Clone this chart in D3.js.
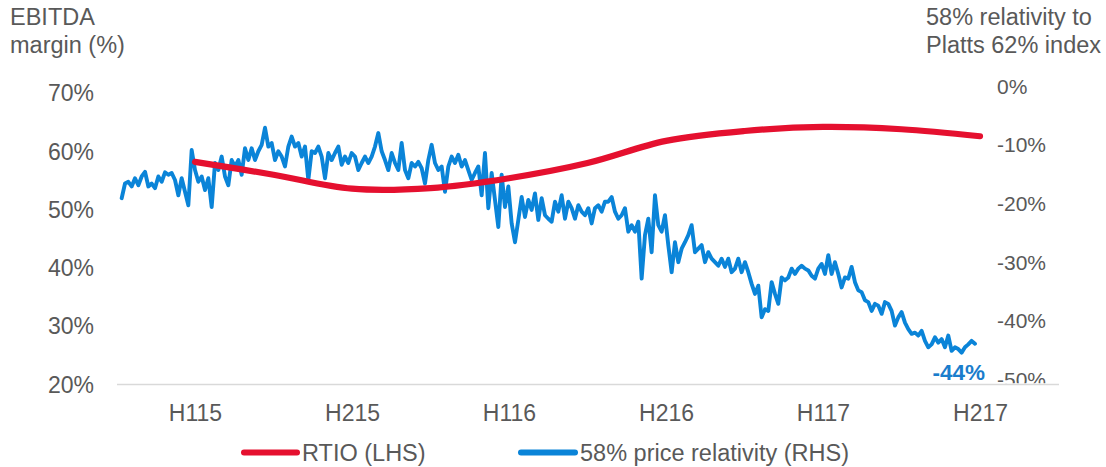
<!DOCTYPE html>
<html><head><meta charset="utf-8">
<script src="https://cdn.jsdelivr.net/npm/d3@7/dist/d3.min.js"></script>
<style>
body{margin:0;background:#fff}
svg{display:block}
text{font-family:"Liberation Sans",Arial,sans-serif;fill:#595959}
</style>
</head><body>
<svg id="chart" width="1106" height="467"></svg>
<script>
// ---- data ----
const halfLabels = ["H115","H215","H116","H216","H117","H217"];
const halfIndex = [0,1,2,3,4,5];
const leftTicks = [20,30,40,50,60,70];
const rightTicks = [0,-10,-20,-30,-40,-50];

// RTIO EBITDA margin (%), at quarter-half positions H115..H217
const rtioPos = [0,0.5,1,1.5,2,2.5,3,3.5,4,4.5,5];
const rtioValues = [58.1,55.9,53.5,53.6,55.3,57.9,61.7,63.4,64.1,63.7,62.5];

// 58% price relativity (%), regular samples (half-year units)
const relStart = -0.467;
const relStep = 0.02123;
const relValues = [
-19.2,-16.7,-16.4,-17.2,-15.8,-17.0,-15.5,-14.7,-17.2,-16.7,
-17.5,-15.5,-16.4,-14.8,-15.2,-14.9,-16.1,-18.7,-15.8,-18.1,
-20.4,-11.0,-14.4,-16.4,-15.5,-17.8,-15.8,-20.7,-13.2,-14.4,
-12.1,-15.5,-17.0,-12.7,-13.8,-12.7,-15.2,-10.7,-12.7,-10.7,
-12.7,-11.2,-10.1,-7.2,-10.4,-9.8,-12.7,-11.2,-12.1,-13.8,
-10.4,-8.7,-10.4,-9.8,-12.1,-10.4,-16.1,-11.2,-11.5,-10.4,
-12.1,-15.8,-11.5,
-12.7,-11.5,-10.4,-13.5,-12.1,-13.2,-11.5,-12.1,-14.4,-13.2,
-12.1,-13.2,-12.1,-10.4,-8.1,-11.2,-12.7,-14.4,-11.5,-13.2,
-14.4,-9.8,-14.4,-15.8,-13.2,-13.8,-13.0,-14.1,-16.7,-12.7,
-10.1,-13.2,-14.4,-13.8,-18.1,-13.8,-12.1,-13.2,-11.8,-13.8,
-12.7,-14.4,-16.1,-14.9,-13.8,-18.7,-11.5,-20.9,-14.9,-19.5,
-24.1,-15.2,-20.7,-17.2,-23.5,-26.7,-22.9,-19.0,-22.4,-19.5,
-21.2,-18.4,-22.9,
-19.2,-22.1,-22.7,-23.2,-19.8,-21.5,-18.7,-22.7,-19.8,-20.9,
-22.7,-20.4,-21.5,-22.1,-20.9,-23.5,-20.9,-20.4,-21.5,-19.8,
-19.8,-19.0,-21.5,-22.7,-22.1,-20.9,-24.9,-23.8,-24.9,-23.2,
-32.9,-25.5,-22.7,-28.4,-18.7,-23.8,-24.9,-22.1,-27.2,-31.8,
-26.7,-30.1,-27.8,-26.7,-25.5,-23.8,-28.4,-27.8,-27.2,-30.1,
-28.4,-29.5,-30.1,-30.7,-29.5,-30.9,-29.5,-31.8,-31.2,-29.5,
-31.8,-30.1,-31.8,
-33.8,-35.5,-34.1,-39.5,-38.1,-38.4,-33.5,-35.5,-37.2,-32.7,
-33.2,-32.7,-31.2,-32.1,-31.2,-30.7,-31.2,-31.5,-32.4,-32.9,
-31.2,-30.4,-32.1,-28.9,-32.1,-30.1,-32.1,-34.4,-32.7,-32.9,
-30.9,-33.5,-34.9,-35.2,-36.6,-36.9,-38.4,-37.2,-37.5,-38.9,
-36.9,-37.2,-38.4,-40.9,-39.5,-38.6,-40.4,-41.5,-42.3,-42.1,
-42.6,-41.8,-43.5,-44.6,-44.1,-42.9,-43.8,-43.2,-44.6,-42.6,
-45.2,-44.6,-44.9,
-45.5,-44.6,-44.1,-43.5,-44.0
];
const endLabel = "-44%";
const leftTitle = ["EBITDA","margin (%)"];
const rightTitle = ["58% relativity to","Platts 62% index"];
const legendItems = ["RTIO (LHS)","58% price relativity (RHS)"];

// ---- drawing ----
const RED = "#e5102f", BLUE = "#0a84d8";
const svg = d3.select("#chart");

const x = d3.scaleLinear().domain([-0.5,5.5]).range([116.5,1058.5]);
const yL = d3.scaleLinear().domain([20,70]).range([384,92.5]);
const yR = d3.scaleLinear().domain([-50,0]).range([379,85.5]);

svg.append("defs").append("clipPath").attr("id","plotclip")
  .append("rect").attr("x",0).attr("y",0).attr("width",1106).attr("height",383.3);

// left axis
const gL = svg.append("g").attr("transform","translate(100,0)")
  .call(d3.axisLeft(yL).tickValues(leftTicks).tickFormat(d=>d+"%").tickSize(0).tickPadding(6));
gL.select(".domain").remove();
gL.selectAll("text").attr("font-size",23).attr("font-family",null).attr("fill",null).attr("dy","0.36em");

// right axis
const gR = svg.append("g").attr("transform","translate(991,0)").attr("clip-path","url(#plotclip)")
  .call(d3.axisRight(yR).tickValues(rightTicks).tickFormat(d=>d+"%").tickSize(0).tickPadding(6));
gR.select(".domain").remove();
gR.selectAll("text").attr("font-size",21).attr("font-family",null).attr("fill",null).attr("dy","0.36em");

// bottom axis
const gB = svg.append("g").attr("transform","translate(0,384)")
  .call(d3.axisBottom(x).tickValues(halfIndex).tickFormat(i=>halfLabels[i]).tickSize(0).tickPadding(21));
gB.select(".domain").attr("stroke","#d9d9d9").attr("stroke-width",1.5);
gB.selectAll("text").attr("font-size",23).attr("font-family",null).attr("fill",null);

// titles
const tl = svg.append("text").attr("x",10).attr("y",25).attr("font-size",23.5);
leftTitle.forEach((t,i)=>tl.append("tspan").attr("x",10).attr("y",25+28*i).text(t));
const tr = svg.append("text").attr("x",926).attr("y",25).attr("font-size",23.5);
rightTitle.forEach((t,i)=>tr.append("tspan").attr("x",926).attr("y",25+28*i).text(t));

// blue series
const relData = relValues.map((v,i)=>({t:relStart+i*relStep,v}));
svg.append("path").datum(relData)
  .attr("fill","none").attr("stroke",BLUE).attr("stroke-width",3.9)
  .attr("stroke-linejoin","round").attr("stroke-linecap","round")
  .attr("d",d3.line().x(d=>x(d.t)).y(d=>yR(d.v)));

// red series
const rtioData = rtioValues.map((v,i)=>({t:rtioPos[i],v}));
svg.append("path").datum(rtioData)
  .attr("fill","none").attr("stroke",RED).attr("stroke-width",6.2)
  .attr("stroke-linecap","round")
  .attr("d",d3.line().curve(d3.curveCatmullRom).x(d=>x(d.t)).y(d=>yL(d.v)));

// end label
const last = relData[relData.length-1];
svg.append("text").attr("x",x(last.t)+10).attr("y",380)
  .attr("text-anchor","end").attr("font-size",22.5).attr("font-weight","bold")
  .style("fill","#1a7dcc").text(endLabel);

// legend
const legY = 452.5;
const leg = [{c:RED,x0:244,x1:297,tx:302,label:legendItems[0]},{c:BLUE,x0:521,x1:575,tx:580,label:legendItems[1]}];
leg.forEach(l=>{
  svg.append("line").attr("x1",l.x0).attr("x2",l.x1).attr("y1",legY).attr("y2",legY)
    .attr("stroke",l.c).attr("stroke-width",6).attr("stroke-linecap","round");
  svg.append("text").attr("x",l.tx).attr("y",460.5).attr("font-size",23.5).text(l.label);
});
</script>
</body></html>
